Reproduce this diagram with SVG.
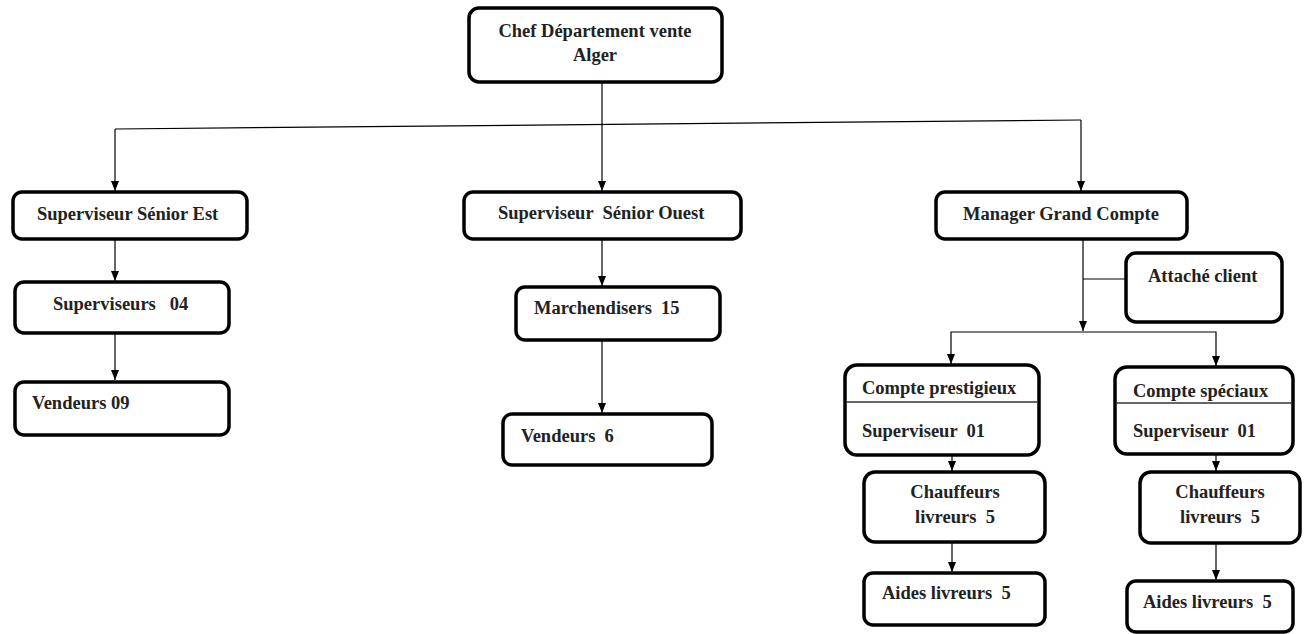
<svg xmlns="http://www.w3.org/2000/svg" width="1307" height="634" viewBox="0 0 1307 634">
  <style>
    .box { fill: #ffffff; stroke: #000000; stroke-width: 3.5; }
    .lbl { font-family: "Liberation Serif", "Times New Roman", serif; font-weight: bold; font-size: 18.5px; fill: #222222; }
    .mid { text-anchor: middle; }
    .wire { fill: none; stroke: #000000; stroke-width: 1.2; }
    .arr { marker-end: url(#head); }
    .sep { stroke: #333333; stroke-width: 1.5; }
  </style>
  <defs>
    <marker id="head" markerUnits="userSpaceOnUse" markerWidth="10" markerHeight="10" viewBox="0 0 10 10" refX="10" refY="5" orient="auto">
      <path d="M0,1 L10,5 L0,9 Z" fill="#000000"/>
    </marker>
  </defs>

  <!-- connectors -->
  <g id="connectors">
    <line class="wire" x1="115" y1="129" x2="1081" y2="120"/>
    <line class="wire arr" x1="602" y1="82" x2="602" y2="191"/>
    <line class="wire arr" x1="115" y1="129" x2="115" y2="191"/>
    <line class="wire arr" x1="1081" y1="120" x2="1081" y2="191"/>

    <line class="wire arr" x1="115" y1="239" x2="115" y2="281"/>
    <line class="wire arr" x1="115" y1="333" x2="115" y2="380"/>

    <line class="wire arr" x1="602" y1="239" x2="602" y2="286"/>
    <line class="wire arr" x1="602" y1="340" x2="602" y2="413"/>

    <line class="wire arr" x1="1083" y1="239" x2="1083" y2="331"/>
    <line class="wire" x1="1083" y1="279" x2="1126" y2="279"/>
    <polyline class="wire arr" points="1083,332 951,332 951,364"/>
    <polyline class="wire arr" points="1083,332 1216,332 1216,366"/>

    <line class="wire arr" x1="952" y1="455" x2="952" y2="471"/>
    <line class="wire arr" x1="952" y1="542" x2="952" y2="572"/>
    <line class="wire arr" x1="1216" y1="454" x2="1216" y2="471"/>
    <line class="wire arr" x1="1216" y1="543" x2="1216" y2="580"/>
  </g>

  <g id="chef">
    <rect class="box" x="469" y="8" width="253" height="74" rx="10"/>
    <text class="lbl mid" x="595" y="37">Chef Département vente</text>
    <text class="lbl mid" x="595" y="61">Alger</text>
  </g>

  <g id="sup-senior-est">
    <rect class="box" x="13" y="192" width="234" height="47" rx="9"/>
    <text class="lbl" x="37" y="220">Superviseur Sénior Est</text>
  </g>
  <g id="superviseurs">
    <rect class="box" x="15" y="282" width="214" height="51" rx="9"/>
    <text class="lbl" x="53" y="310" xml:space="preserve">Superviseurs   04</text>
  </g>
  <g id="vendeurs-est">
    <rect class="box" x="15" y="382" width="214" height="53" rx="9"/>
    <text class="lbl" x="32" y="409">Vendeurs 09</text>
  </g>

  <g id="sup-senior-ouest">
    <rect class="box" x="464" y="192" width="277" height="47" rx="9"/>
    <text class="lbl" x="498" y="219" xml:space="preserve">Superviseur  Sénior Ouest</text>
  </g>
  <g id="marchendisers">
    <rect class="box" x="516" y="287" width="204" height="53" rx="9"/>
    <text class="lbl" x="534" y="314" xml:space="preserve">Marchendisers  15</text>
  </g>
  <g id="vendeurs-ouest">
    <rect class="box" x="503" y="414" width="209" height="51" rx="9"/>
    <text class="lbl" x="521" y="442" xml:space="preserve">Vendeurs  6</text>
  </g>

  <g id="manager">
    <rect class="box" x="936" y="192" width="251" height="47" rx="9"/>
    <text class="lbl mid" x="1061" y="220">Manager Grand Compte</text>
  </g>
  <g id="attache">
    <rect class="box" x="1126" y="253" width="156" height="69" rx="10"/>
    <text class="lbl" x="1148" y="282">Attaché client</text>
  </g>

  <g id="compte-prestigieux">
    <rect class="box" x="845" y="365" width="194" height="90" rx="12"/>
    <line class="sep" x1="846" y1="402" x2="1038" y2="402"/>
    <text class="lbl" x="862" y="394">Compte prestigieux</text>
    <text class="lbl" x="862" y="437" xml:space="preserve">Superviseur  01</text>
  </g>
  <g id="chauffeurs-1">
    <rect class="box" x="864" y="472" width="181" height="70" rx="11"/>
    <text class="lbl mid" x="955" y="498">Chauffeurs</text>
    <text class="lbl mid" x="955" y="523" xml:space="preserve">livreurs  5</text>
  </g>
  <g id="aides-1">
    <rect class="box" x="864" y="573" width="181" height="52" rx="9"/>
    <text class="lbl" x="882" y="599" xml:space="preserve">Aides livreurs  5</text>
  </g>

  <g id="compte-speciaux">
    <rect class="box" x="1115" y="367" width="178" height="87" rx="12"/>
    <line class="sep" x1="1116" y1="403" x2="1292" y2="403"/>
    <text class="lbl" x="1133" y="397">Compte spéciaux</text>
    <text class="lbl" x="1133" y="437" xml:space="preserve">Superviseur  01</text>
  </g>
  <g id="chauffeurs-2">
    <rect class="box" x="1140" y="472" width="160" height="71" rx="11"/>
    <text class="lbl mid" x="1220" y="498">Chauffeurs</text>
    <text class="lbl mid" x="1220" y="523" xml:space="preserve">livreurs  5</text>
  </g>
  <g id="aides-2">
    <rect class="box" x="1127" y="581" width="166" height="51" rx="9"/>
    <text class="lbl" x="1143" y="608" xml:space="preserve">Aides livreurs  5</text>
  </g>
</svg>
